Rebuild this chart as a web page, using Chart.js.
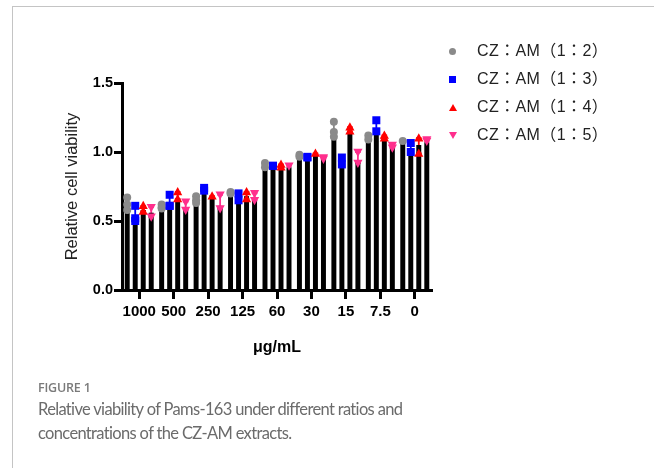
<!DOCTYPE html>
<html><head><meta charset="utf-8">
<script src="https://cdn.jsdelivr.net/npm/chart.js@4.4.0/dist/chart.umd.min.js"></script>
<style>
html,body{margin:0;padding:0;background:#fff;width:654px;height:468px;overflow:hidden;}
#wrap{position:relative;width:654px;height:468px;}
#c{position:absolute;left:0;top:0;}
.ft{position:absolute;left:12px;top:6px;right:0;height:0;border-top:1px solid #c4c4c4;}
.fl{position:absolute;left:12px;top:6px;bottom:0;width:0;border-left:1px solid #c4c4c4;}
.lg{position:absolute;left:477px;font-family:"Liberation Sans","Noto Sans CJK JP",sans-serif;font-size:16px;color:#222;line-height:20px;height:20px;white-space:nowrap;letter-spacing:0.4px;}
.mk{position:absolute;}
.circ{width:7px;height:7px;border-radius:50%;background:#8a8a8a;}
.sq{width:7px;height:7px;background:#0000ff;}
.up{width:0;height:0;border-left:4px solid transparent;border-right:4px solid transparent;border-bottom:7px solid #ff0000;}
.dn{width:0;height:0;border-left:4px solid transparent;border-right:4px solid transparent;border-top:7px solid #ff2e8c;}
.fig{position:absolute;left:38px;top:379px;font-family:"Open Sans",sans-serif;font-size:12.5px;font-weight:600;color:#7a7a7a;letter-spacing:-0.2px;}
.cap{position:absolute;left:38px;top:397px;font-family:Lato,sans-serif;font-size:16.5px;color:#6b6b6b;line-height:24px;letter-spacing:-0.66px;}
</style></head>
<body><div id="wrap">
<canvas id="c" width="654" height="468"></canvas>
<div class="ft"></div><div class="fl"></div>
<div id="legend"></div>
<div class="fig">FIGURE 1</div>
<div class="cap">Relative viability of Pams-163 under different ratios and<br>concentrations of the CZ-AM extracts.</div>
</div>
<script>
const categories = ['1000','500','250','125','60','30','15','7.5','0'];
const seriesNames = ['CZ：AM（1：2）','CZ：AM（1：3）','CZ：AM（1：4）','CZ：AM（1：5）'];
const yTicks = [0, 0.5, 1.0, 1.5];

const means12 = [0.62, 0.59, 0.64, 0.70, 0.89, 0.96, 1.12, 1.09, 1.07];
const means13 = [0.53, 0.62, 0.72, 0.67, 0.90, 0.96, 0.92, 1.16, 1.01];
const means14 = [0.58, 0.66, 0.67, 0.68, 0.89, 0.98, 1.14, 1.11, 1.05];
const means15 = [0.56, 0.59, 0.61, 0.66, 0.89, 0.95, 0.93, 1.03, 1.07];

const points12 = [[0.67,0.58,0.62],[0.62,0.59,0.60],[0.68,0.63,0.65],[0.71,0.70],[0.92,0.89],[0.98,0.965],[1.22,1.145,1.11],[1.12,1.09],[1.08]];
const points13 = [[0.61,0.50,0.52],[0.69,0.61,0.61],[0.74,0.72],[0.70,0.65],[0.90,0.90],[0.965,0.96],[0.96,0.91],[1.23,1.15],[1.065,1.00]];
const points14 = [[0.61,0.57],[0.71,0.66],[0.68],[0.71,0.66],[0.91,0.89],[0.99],[1.18,1.15],[1.12,1.10],[1.10,0.99]];
const points15 = [[0.60,0.53],[0.64,0.58],[0.69,0.59],[0.70,0.65],[0.90],[0.96,0.95],[1.00,0.92],[1.05,1.03],[1.09,1.08]];

const colors = ['#8a8a8a','#0000ff','#ff0000','#ff2e8c'];
const shapes = ['circle','square','up','down'];
const allMeans = [means12, means13, means14, means15];
const allPoints = [points12, points13, points14, points15];

// HTML legend
const lg = document.getElementById('legend');
const lgCls = ['circ','sq','up','dn'];
const lgY = [51, 79, 107, 135];
seriesNames.forEach((n,i)=>{
  const m = document.createElement('div');
  m.className = 'mk ' + lgCls[i];
  m.style.left = (453-4) + 'px';
  m.style.top = (lgY[i]-3.5) + 'px';
  lg.appendChild(m);
  const t = document.createElement('div');
  t.className = 'lg';
  t.style.top = (lgY[i]-10) + 'px';
  t.textContent = n;
  lg.appendChild(t);
});

function drawMarker(ctx, shape, color, x, y) {
  ctx.save();
  ctx.fillStyle = color;
  ctx.beginPath();
  if (shape === 'circle') { ctx.arc(x, y, 4, 0, Math.PI*2); }
  else if (shape === 'square') { ctx.rect(x-4, y-4, 8, 8); }
  else if (shape === 'up') { ctx.moveTo(x, y-5); ctx.lineTo(x+4.6, y+3.3); ctx.lineTo(x-4.6, y+3.3); ctx.closePath(); }
  else { ctx.moveTo(x, y+5); ctx.lineTo(x+4.6, y-3.3); ctx.lineTo(x-4.6, y-3.3); ctx.closePath(); }
  ctx.fill();
  ctx.restore();
}

const errPlugin = {
  id: 'errPoints',
  beforeDatasetsDraw(chart) {
    const ctx = chart.ctx, ys = chart.scales.y;
    allPoints.forEach((pts, d) => {
      const meta = chart.getDatasetMeta(d);
      meta.data.forEach((el, i) => {
        const p = pts[i];
        const lo = Math.min(...p), hi = Math.max(...p);
        const y1 = ys.getPixelForValue(lo), y2 = ys.getPixelForValue(hi);
        ctx.save();
        ctx.strokeStyle = colors[d];
        ctx.lineWidth = 1.8;
        ctx.beginPath();
        ctx.moveTo(el.x, y1); ctx.lineTo(el.x, y2);
        ctx.moveTo(el.x-2.8, y2); ctx.lineTo(el.x+2.8, y2);
        ctx.moveTo(el.x-2.8, y1); ctx.lineTo(el.x+2.8, y1);
        ctx.stroke();
        ctx.restore();
      });
    });
  },
  afterDatasetsDraw(chart) {
    const ctx = chart.ctx, ys = chart.scales.y;
    allPoints.forEach((pts, d) => {
      const meta = chart.getDatasetMeta(d);
      meta.data.forEach((el, i) => {
        pts[i].forEach(v => drawMarker(ctx, shapes[d], colors[d], el.x, ys.getPixelForValue(v)));
      });
    });
  }
};

const FONT = "'Liberation Sans', Arial, sans-serif";
new Chart(document.getElementById('c'), {
  type: 'bar',
  data: {
    labels: categories,
    datasets: seriesNames.map((n, d) => ({
      label: n,
      data: allMeans[d],
      backgroundColor: '#000',
      borderWidth: 0,
      categoryPercentage: 0.93,
      barPercentage: 0.62
    }))
  },
  options: {
    responsive: false,
    animation: false,
    layout: { padding: { left: 59, right: 222, top: 83, bottom: 107 } },
    plugins: { legend: { display: false }, tooltip: { enabled: false } },
    scales: {
      x: {
        grid: { display: true, drawOnChartArea: false, offset: false, tickLength: 9, tickWidth: 3, tickColor: '#000' },
        border: { color: '#000', width: 3 },
        ticks: { color: '#000', font: { family: FONT, size: 15, weight: 'bold' }, padding: 4, maxRotation: 0, autoSkip: false },
        title: { display: true, text: 'μg/mL', color: '#000', font: { family: FONT, size: 16, weight: 'bold' } },
        afterFit: s => { s.height = 71; }
      },
      y: {
        min: 0, max: 1.5,
        afterBuildTicks: s => { s.ticks = yTicks.map(v => ({ value: v })); },
        ticks: { color: '#000', font: { family: FONT, size: 14.5, weight: 'bold' }, padding: 1, callback: v => Number(v).toFixed(1) },
        grid: { display: true, drawOnChartArea: false, tickLength: 8, tickWidth: 3, tickColor: '#000' },
        border: { color: '#000', width: 3 },
        title: { display: true, text: 'Relative cell viability', color: '#222', font: { family: FONT, size: 16.5 } },
        afterFit: s => { s.width = 63; }
      }
    }
  },
  plugins: [errPlugin]
});
</script>
</body></html>
